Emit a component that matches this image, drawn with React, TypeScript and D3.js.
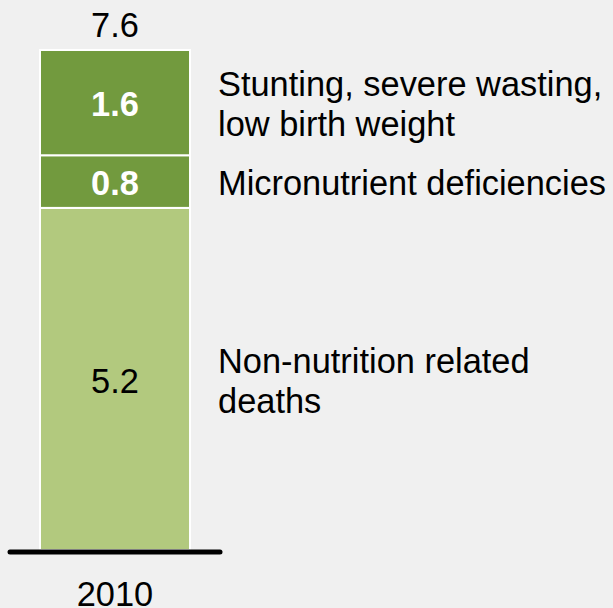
import React from "react";
import * as d3 from "d3";

const years = ["2010"];
const segmentKeys = ["nonNutrition", "micronutrient", "stunting"];
const segmentLabels = [
  ["Non-nutrition related", "deaths"],
  ["Micronutrient deficiencies"],
  ["Stunting, severe wasting,", "low birth weight"],
];
const values2010 = [5.2, 0.8, 1.6];
const totalLabel = "7.6";
const segmentColors = ["#b2c97e", "#729a3e", "#729a3e"];
const labelColors = ["#000000", "#ffffff", "#ffffff"];
const labelWeights = ["normal", "bold", "bold"];

const W = 613;
const H = 608;
const FONT = "'Liberation Sans', Arial, Helvetica, sans-serif";
const FS = 34.4;

export default function App() {
  const x = d3.scaleBand().domain(years).range([40, 190]).padding(0);
  const y = d3.scaleLinear().domain([0, d3.sum(values2010)]).range([550, 50]);

  const row: any = { year: years[0] };
  segmentKeys.forEach((k, i) => (row[k] = values2010[i]));
  const stacked = d3.stack().keys(segmentKeys)([row]);

  const bx = x(years[0]) as number;
  const bw = x.bandwidth();
  const cx = bx + bw / 2;
  const capHalf = FS * 0.358 + 1.5;
  const lineH = 40;

  return (
    <svg
      width={W}
      height={H}
      style={{ position: "absolute", left: 0, top: 0, background: "#f0f0f0" }}
      fontFamily={FONT}
    >
      <rect x={0} y={0} width={W} height={H} fill="#f0f0f0" />
      {stacked.map((s, i) => {
        const d = s[0];
        const y0 = y(d[0]);
        const y1 = y(d[1]);
        const cy = (y0 + y1) / 2;
        const lines = segmentLabels[i];
        return (
          <g key={segmentKeys[i]}>
            <rect
              x={bx}
              y={y1}
              width={bw}
              height={y0 - y1}
              fill={segmentColors[i]}
              stroke="#ffffff"
              strokeWidth={2}
            />
            <text
              x={cx}
              y={cy + capHalf}
              textAnchor="middle"
              fontSize={FS}
              fontWeight={labelWeights[i]}
              fill={labelColors[i]}
            >
              {values2010[i].toFixed(1)}
            </text>
            {lines.map((ln, j) => (
              <text
                key={j}
                x={218}
                y={cy + capHalf + (j - (lines.length - 1) / 2) * lineH}
                fontSize={FS}
                fill="#000000"
              >
                {ln}
              </text>
            ))}
          </g>
        );
      })}
      <text x={cx} y={y(d3.sum(values2010)) - 13} textAnchor="middle" fontSize={FS} fill="#000">
        {totalLabel}
      </text>
      <line x1={10} x2={220} y1={552} y2={552} stroke="#000" strokeWidth={5} strokeLinecap="round" />
      <text x={cx} y={606} textAnchor="middle" fontSize={FS} fill="#000">
        {years[0]}
      </text>
    </svg>
  );
}
